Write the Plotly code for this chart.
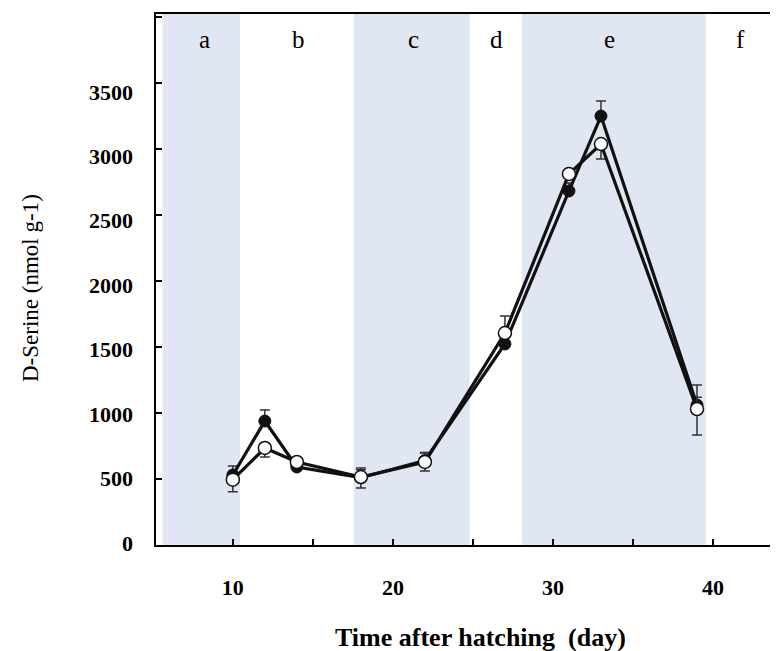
import plotly.graph_objects as go

# ---- data ----
days = [10, 12, 14, 18, 22, 27, 31, 33, 39]
filled_vals = [530, 939, 591, 510, 640, 1523, 2682, 3250, 1060]
filled_err_up = [68, 84, 30, 60, 60, 60, 60, 114, 60]
filled_err_dn = [0, 0, 0, 0, 0, 0, 0, 0, 0]
open_vals = [495, 735, 629, 515, 629, 1606, 2811, 3038, 1030]
open_err_up = [0, 0, 0, 68, 68, 129, 0, 0, 182]
open_err_dn = [91, 68, 0, 83, 68, 0, 0, 114, 197]

bands = [(5.6, 10.45), (17.55, 24.8), (28.05, 39.55)]
stage_labels = ["a", "b", "c", "d", "e", "f"]
stage_pos = [8.25, 14.1, 21.3, 26.5, 33.56, 41.7]

x_ticks = [10, 15, 20, 25, 30, 35, 40]
x_ticktext = ["10", "", "20", "", "30", "", "40"]
y_ticks = [0, 500, 1000, 1500, 2000, 2500, 3000, 3500, 4000]
y_label_vals = [0, 500, 1000, 1500, 2000, 2500, 3000, 3500]
y_label_text = ["0", "500", "1000", "1500", "2000", "2500", "3000", "3500"]

FONT = "Liberation Serif"
OFF = 8  # page body margin
W, H = 778 - OFF, 651 - OFF
PL, PT, PB = 156, 14, 545  # plot area edges in page pixels
L, T = PL - OFF, PT - OFF
B = H - (PB - OFF)
R = 0
PH = PB - PT

fig = go.Figure()

for x0, x1 in bands:
    fig.add_shape(type="rect", xref="x", yref="paper", x0=x0, x1=x1, y0=0, y1=1,
                  fillcolor="#E0E7F3", line=dict(width=0), layer="below")

fig.add_trace(go.Scatter(
    x=days, y=filled_vals, mode="lines+markers",
    line=dict(color="#111111", width=3.2),
    marker=dict(size=12, color="#111111", line=dict(color="#111111", width=1)),
    error_y=dict(type="data", array=filled_err_up, arrayminus=filled_err_dn,
                 symmetric=False, color="#333333", thickness=1.5, width=5),
    showlegend=False))

fig.add_trace(go.Scatter(
    x=days, y=open_vals, mode="lines+markers",
    line=dict(color="#111111", width=3.2),
    marker=dict(size=13, color="white", line=dict(color="#111111", width=1.5)),
    error_y=dict(type="data", array=open_err_up, arrayminus=open_err_dn,
                 symmetric=False, color="#333333", thickness=1.5, width=5),
    showlegend=False))

# carrier for the label axis (as in the original, labels sit slightly off the ticks)
fig.add_trace(go.Scatter(x=[None], y=[None], yaxis="y2", showlegend=False,
                         hoverinfo="skip"))

for lab, xp in zip(stage_labels, stage_pos):
    fig.add_annotation(x=xp, y=1, xref="x", yref="paper", yanchor="top", yshift=-10,
                       text=lab, showarrow=False,
                       font=dict(family=FONT, size=25, color="black"))

fig.add_annotation(x=(30 - PL) / (778 - PL), y=(PB - 288) / PH,
                   xref="paper", yref="paper", text="D-Serine (nmol g-1)",
                   textangle=-90, showarrow=False, xanchor="center", yanchor="middle",
                   font=dict(family=FONT, size=23, color="black"))

fig.add_annotation(x=(480 - PL) / (778 - PL), y=-(637 - PB) / PH,
                   xref="paper", yref="paper", text="<b>Time after hatching  (day)</b>",
                   showarrow=False, xanchor="center", yanchor="middle",
                   font=dict(family=FONT, size=26, color="black"))

fig.update_layout(
    width=W, height=H,
    margin=dict(l=L, r=R, t=T, b=B),
    plot_bgcolor="white", paper_bgcolor="white",
    xaxis=dict(range=[5.2, 44.06], tickvals=x_ticks, ticktext=x_ticktext,
               ticks="inside", ticklen=6, tickwidth=2, tickcolor="black",
               showline=True, linecolor="black", linewidth=2, mirror=True,
               showgrid=False, zeroline=False, ticklabelstandoff=22,
               tickfont=dict(family=FONT, size=22, color="black", weight="bold")),
    yaxis=dict(range=[0, 4023], tickvals=y_ticks, showticklabels=False,
               ticks="inside", ticklen=6, tickwidth=2, tickcolor="black",
               showline=True, linecolor="black", linewidth=2, mirror=False,
               showgrid=False, zeroline=False),
    yaxis2=dict(overlaying="y", side="left", range=[-15.5, 4104],
                tickvals=y_label_vals, ticktext=y_label_text,
                ticks="", showline=False, showgrid=False, zeroline=False,
                ticklabelstandoff=22,
                tickfont=dict(family=FONT, size=22, color="black", weight="bold")),
)

fig.write_html("out.html")
